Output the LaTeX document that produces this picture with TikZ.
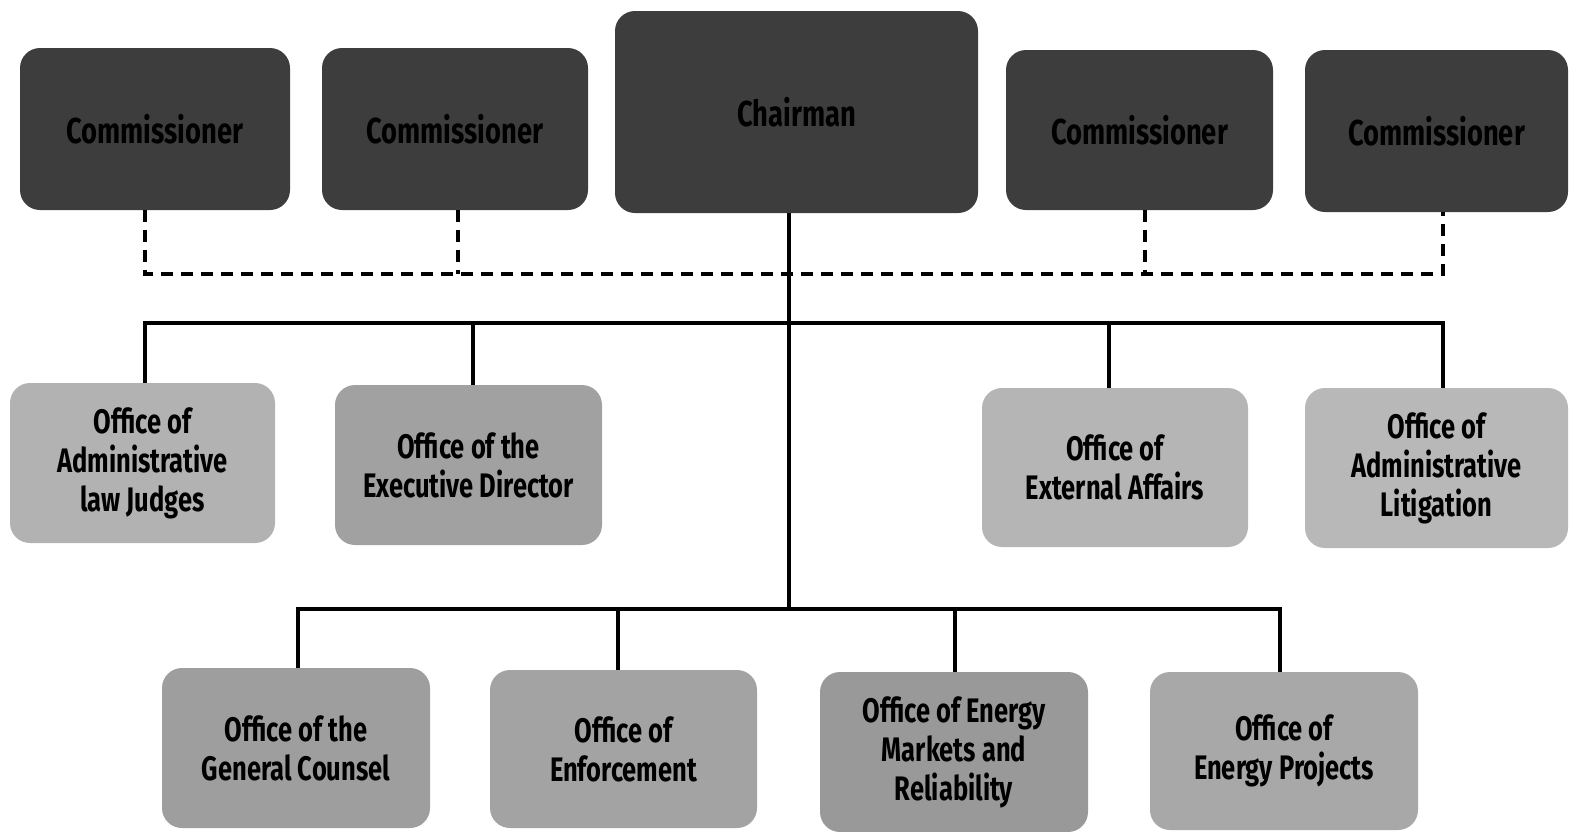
\documentclass[tikz,border=0pt]{standalone}
\usepackage{fontspec}
\newfontfamily\cond[FakeStretch=0.75]{Fira Sans}
\newfontfamily\condtop[FakeStretch=0.76]{Fira Sans}
\begin{document}
\begin{tikzpicture}[x=0.5pt,y=-0.5pt,
  box/.style={rounded corners=10pt, inner sep=2pt, align=center, text=black,
    font=\cond\bfseries\fontsize{17}{19.5}\selectfont},
  topbox/.style={box, fill=black!76, font=\condtop\bfseries\fontsize{18}{20}\selectfont},
  offbox/.style={box, fill=black!33},
  solidline/.style={line width=2pt},
  dashline/.style={line width=1.7pt, dash pattern=on 6pt off 4pt}]
\useasboundingbox (0,0) rectangle (1570,831);
% top row
\node[topbox, minimum width=135pt, minimum height=81pt] (c1) at (155,129) {Commissioner};
\node[topbox, minimum width=133pt, minimum height=81pt] (c2) at (455,129) {Commissioner};
\node[topbox, minimum width=181.5pt, minimum height=101pt] (ch) at (796.5,112) {Chairman};
\node[topbox, minimum width=133.5pt, minimum height=80pt] (c3) at (1139.5,130) {Commissioner};
\node[topbox, minimum width=131.5pt, minimum height=81pt] (c4) at (1436.5,131) {Commissioner};
% middle row
\node[offbox, fill=black!30, minimum width=132.5pt, minimum height=80pt] (a1) at (142.5,463) {Office of\\Administrative\\law Judges};
\node[offbox, fill=black!37, minimum width=133.5pt, minimum height=80pt] (a2) at (468.5,465) {Office of the\\Executive Director};
\node[offbox, fill=black!29, minimum width=133pt, minimum height=79.5pt] (a3) at (1115,467.5) {Office of\\External Affairs};
\node[offbox, fill=black!28, minimum width=131.5pt, minimum height=80pt] (a4) at (1436.5,468) {Office of\\Administrative\\Litigation};
% bottom row
\node[offbox, fill=black!38, minimum width=134pt, minimum height=80pt] (b1) at (296,748) {Office of the\\General Counsel};
\node[offbox, fill=black!36, minimum width=133.5pt, minimum height=79pt] (b2) at (623.5,749) {Office of\\Enforcement};
\node[offbox, fill=black!40, minimum width=134pt, minimum height=80pt] (b3) at (954,752) {Office of Energy\\Markets and\\Reliability};
\node[offbox, fill=black!34, minimum width=134pt, minimum height=79pt] (b4) at (1284,751) {Office of\\Energy Projects};
% bus coordinates
\coordinate (d1) at (145,274);
\coordinate (d2) at (458,274);
\coordinate (d3) at (1145,274);
\coordinate (d4) at (1443,274);
\coordinate (spine) at (789,323);
\coordinate (m1) at (145,323);
\coordinate (m2) at (473,323);
\coordinate (m3) at (1109,323);
\coordinate (m4) at (1443,323);
\coordinate (s0) at (789,609);
\coordinate (s1) at (298,609);
\coordinate (s2) at (618,609);
\coordinate (s3) at (955,609);
\coordinate (s4) at (1280,609);
% dashed commissioner links
\draw[dashline] (c1.south -| d1) -- (d1) -- (d4) -- (c4.south -| d4);
\draw[dashline] (c2.south -| d2) -- (d2);
\draw[dashline] (c3.south -| d3) -- (d3);
% chairman spine and office buses
\draw[solidline] (ch.south -| spine) -- (s0);
\draw[solidline] (a1.north -| m1) -- (m1) -- (m4) -- (a4.north -| m4);
\draw[solidline] (m2) -- (a2.north -| m2);
\draw[solidline] (m3) -- (a3.north -| m3);
\draw[solidline] (b1.north -| s1) -- (s1) -- (s4) -- (b4.north -| s4);
\draw[solidline] (s2) -- (b2.north -| s2);
\draw[solidline] (s3) -- (b3.north -| s3);
\end{tikzpicture}
\end{document}
